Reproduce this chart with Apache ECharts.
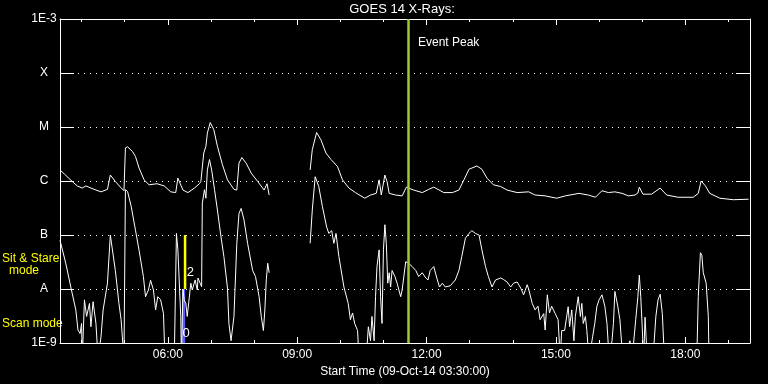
<!DOCTYPE html>
<html><head><meta charset="utf-8">
<script src="https://cdn.jsdelivr.net/npm/echarts@6/dist/echarts.min.js"></script>
<style>html,body{margin:0;padding:0;background:#000}#c{width:768px;height:384px}</style>
</head><body><div id="c"></div>
<script>
const LOW = 5e-10; // below the 1E-9 floor (clipped)
const startTime = "03:30";
const endTime = "19:30";
const eventPeak = "11:34";
const scanModeTime = "06:22";
const stareModeTime = "06:24";
const majorTicks = ["06:00","09:00","12:00","15:00","18:00"];
const minorTicks = ["04:00","05:00","07:00","08:00","10:00","11:00","13:00","14:00","16:00","17:00","19:00"];
const yLevels = [1e-9,1e-8,1e-7,1e-6,1e-5,1e-4,1e-3];
const yLabels = ["1E-9","A","B","C","M","X","1E-3"];

// GOES 14 long channel (1-8 A)
const longChannel = [
["03:30",1.6e-6],["03:36",1.35e-6],["03:47",9.8e-7],["03:54",8.1e-7],["04:01",7.4e-7],["04:06",8.1e-7],["04:13",7.4e-7],["04:20",6.8e-7],["04:27",6.3e-7],["04:36",7.0e-7],["04:40",1.29e-6],["04:42",1.4e-6],["04:47",9.8e-7],["04:54",7.7e-7],["04:59",6.6e-7],["05:01",4.1e-6],["05:04",4.3e-6],["05:11",3.5e-6],["05:15",2.84e-6],["05:20",1.74e-6],["05:27",1.05e-6],["05:34",8.5e-7],["05:45",8.9e-7],["05:55",8.1e-7],["06:04",6.3e-7],["06:11",6.1e-7],["06:14",1.13e-6],["06:21",6.8e-7],["06:28",6.1e-7],["06:37",7.4e-7],["06:44",8.9e-7],["06:46",9.8e-7],["06:50",3.3e-6],["06:53",4.4e-6],["06:55",7.7e-6],["06:59",1.21e-5],["07:04",8.9e-6],["07:09",4.4e-6],["07:16",2.0e-6],["07:23",1.05e-6],["07:32",7.0e-7],["07:36",6.8e-7],["07:39",2.14e-6],["07:43",2.72e-6],["07:49",2.14e-6],["07:56",1.4e-6],["08:05",9.8e-7],["08:14",6.8e-7],["08:18",8.9e-7],["08:21",5.5e-7],
["08:50",null],
["09:18",1.6e-6],["09:21",3.8e-6],["09:27",7.9e-6],["09:33",5.8e-6],["09:40",3.3e-6],["09:47",2.5e-6],["09:56",1.86e-6],["10:03",1.05e-6],["10:12",7.4e-7],["10:21",6.1e-7],["10:34",4.8e-7],["10:42",5.5e-7],["10:50",5.9e-7],["10:54",1.05e-6],["10:57",5.5e-7],["11:02",1.29e-6],["11:05",9.8e-7],["11:08",5.9e-7],["11:17",5.5e-7],["11:26",5.3e-7],["11:32",7.7e-7],["11:42",6.8e-7],["11:54",6.1e-7],["12:03",7.0e-7],["12:10",7.7e-7],["12:24",6.1e-7],["12:36",6.1e-7],["12:45",6.8e-7],["12:52",1.05e-6],["12:59",1.65e-6],["13:10",1.9e-6],["13:17",1.65e-6],["13:24",1.13e-6],["13:33",8.5e-7],["13:43",7.9e-7],["13:52",6.8e-7],["14:06",6.1e-7],["14:22",6.3e-7],["14:31",5.5e-7],["14:45",5.3e-7],["15:01",4.8e-7],["15:13",5.3e-7],["15:32",5.9e-7],["15:45",5.5e-7],["15:55",5.0e-7],["16:04",6.6e-7],["16:13",6.1e-7],["16:22",6.3e-7],["16:32",5.9e-7],["16:41",5.3e-7],["16:50",5.5e-7],["16:54",6.0e-7],["16:56",7.7e-7],["17:01",5.7e-7],["17:13",5.7e-7],["17:25",7.4e-7],["17:34",5.5e-7],["17:50",5.0e-7],["18:11",5.0e-7],["18:18",5.9e-7],["18:22",1.0e-6],["18:28",8.1e-7],["18:34",5.9e-7],["18:48",4.8e-7],["19:07",4.5e-7],["19:28",4.6e-7]
];

// GOES 14 short channel (0.5-4 A)
const shortChannel = [
["03:30",8e-8],["03:38",3.0e-8],["03:45",1.09e-8],["03:52",4.1e-9],["03:55",1.74e-9],["03:58",1.5e-9],["04:00",2.3e-9],["04:01",LOW],["04:04",6.3e-9],["04:07",3.1e-9],["04:11",5.4e-9],["04:13",2.0e-9],["04:16",5.8e-9],["04:20",2.3e-9],["04:23",LOW],["04:27",1.3e-9],["04:30",4.1e-9],["04:36",1.28e-8],["04:40",1.0e-7],["04:42",9.5e-8],["04:47",2.2e-8],["04:52",5.4e-9],["04:55",2.7e-9],["04:59",LOW],["05:01",6.9e-7],["05:04",6.4e-7],["05:09",3.4e-7],["05:15",1.23e-7],["05:20",5.2e-8],["05:26",1.7e-8],["05:29",7.2e-9],["05:33",9.6e-9],["05:36",1.45e-8],["05:40",9.6e-9],["05:43",4.1e-9],["05:46",7.2e-9],["05:50",6.3e-9],["05:54",3.5e-9],["05:56",LOW],["06:09",LOW],["06:12",1.07e-7],["06:14",5.3e-8],["06:18",3.1e-9],["06:19",LOW],["06:21",1.0e-8],["06:23",6e-9],["06:25",5.5e-9],["06:27",3.1e-9],["06:32",1.28e-8],["06:34",9.6e-9],["06:38",1.47e-8],["06:41",9.6e-9],["06:42",1.6e-8],["06:45",1.28e-8],["06:47",1.1e-8],["06:48",3.9e-7],["06:51",6.9e-7],["06:53",4.8e-7],["06:55",1.6e-6],["06:58",2.5e-6],["07:01",1.6e-6],["07:05",6.9e-7],["07:09",2.9e-7],["07:14",9.2e-8],["07:18",4.0e-8],["07:23",1.04e-8],["07:25",2.3e-9],["07:28",1.1e-9],["07:32",3.1e-9],["07:36",7.0e-8],["07:39",2.5e-7],["07:42",3.1e-7],["07:46",1.9e-7],["07:51",7e-8],["07:58",2.2e-8],["08:02",1.7e-8],["08:07",7.2e-9],["08:10",3.1e-9],["08:13",1.7e-9],["08:15",4.1e-9],["08:17",1.47e-8],["08:19",3.0e-8],["08:21",2.0e-8],
["08:50",null],
["09:18",7e-8],["09:21",2.9e-7],["09:25",1.2e-6],["09:27",1.29e-6],["09:30",7.9e-7],["09:35",3.4e-7],["09:41",1.4e-7],["09:44",1.07e-7],["09:48",1.2e-7],["09:51",7e-8],["09:54",1.07e-7],["09:58",4e-8],["10:05",1.09e-8],["10:11",5.4e-9],["10:14",2.7e-9],["10:17",3.6e-9],["10:20",2.3e-9],["10:24",1.7e-9],["10:26",LOW],["10:36",LOW],["10:39",2.0e-9],["10:42",1.1e-9],["10:44",3.1e-9],["10:47",1.1e-9],["10:49",7.2e-9],["10:51",2.6e-8],["10:54",5.3e-8],["10:56",7.2e-9],["10:58",2.3e-9],["11:00",5.3e-8],["11:02",1.55e-7],["11:04",7e-8],["11:06",1.28e-8],["11:08",2.0e-8],["11:10",1.09e-8],["11:12",2.2e-8],["11:16",1.7e-8],["11:19",1.28e-8],["11:24",7.2e-9],["11:26",9.6e-9],["11:31",3.2e-8],["11:35",3.0e-8],["11:40",2.6e-8],["11:45",2.2e-8],["11:49",1.7e-8],["11:54",2.0e-8],["11:59",1.6e-8],["12:02",1.47e-8],["12:05",2.2e-8],["12:10",2.6e-8],["12:15",1.47e-8],["12:18",1.09e-8],["12:22",1.28e-8],["12:26",1.09e-8],["12:33",1.15e-8],["12:40",1.47e-8],["12:45",2.2e-8],["12:49",4e-8],["12:54",8.7e-8],["12:59",1.07e-7],["13:03",1.2e-7],["13:08",1.07e-7],["13:13",1.0e-7],["13:17",5.3e-8],["13:22",2.6e-8],["13:26",1.7e-8],["13:31",1.09e-8],["13:36",1.47e-8],["13:43",1.6e-8],["13:47",1.5e-8],["13:52",1.35e-8],["13:57",1.09e-8],["14:01",1.28e-8],["14:06",1.35e-8],["14:11",1.04e-8],["14:15",7.8e-9],["14:20",1.2e-8],["14:22",1.0e-8],["14:27",5.4e-9],["14:31",4.1e-9],["14:35",4.8e-9],["14:38",2.7e-9],["14:43",3.5e-9],["14:45",1.74e-9],["14:48",7.8e-9],["14:51",3.6e-9],["14:54",4.8e-9],["14:59",3.5e-9],["15:03",2.7e-9],["15:06",LOW],["15:08",1.7e-9],["15:12",1.7e-9],["15:17",4.7e-9],["15:19",2.0e-9],["15:22",4.1e-9],["15:25",1.1e-9],["15:27",3.1e-9],["15:31",7.2e-9],["15:34",3.1e-9],["15:36",5.4e-9],["15:38",2.3e-9],["15:41",3.1e-9],["15:43",1.7e-9],["15:46",LOW],["15:51",1.3e-9],["15:54",2.3e-9],["15:57",4.8e-9],["16:00",6.3e-9],["16:04",7.8e-9],["16:08",4.8e-9],["16:11",2.3e-9],["16:14",LOW],["16:18",1.1e-9],["16:20",2.3e-9],["16:22",9e-9],["16:26",4.8e-9],["16:29",2.7e-9],["16:33",LOW],["16:43",1.1e-9],["16:46",LOW],["16:51",2.7e-9],["16:54",7.2e-9],["16:56",1.8e-8],["16:58",7.2e-9],["17:00",2e-9],["17:02",LOW],["17:04",3e-9],["17:07",LOW],["17:15",LOW],["17:19",3.1e-9],["17:22",6.3e-9],["17:25",8e-9],["17:28",3.5e-9],["17:31",LOW],["18:16",LOW],["18:18",7.2e-9],["18:21",4.7e-8],["18:23",4.2e-8],["18:25",2.0e-8],["18:29",1.28e-8],["18:32",3.1e-9],["18:33",LOW],["19:30",LOW]
];

const toMin = s => { const p = s.split(':').map(Number); return p[0]*60 + p[1]; };
const fmt = v => { const h = Math.floor(v/60), m = Math.round(v - h*60); return String(h).padStart(2,'0') + ':' + String(m).padStart(2,'0'); };
const FONT = '"Liberation Sans", Arial, sans-serif';
const WHITE = '#ffffff';
const xMin = toMin(startTime), xMax = toMin(endTime);
const majorVals = majorTicks.map(toMin), minorVals = minorTicks.map(toMin);
const conv = arr => arr.map(d => [toMin(d[0]), d[1]]);

function xAx(grid, pos, ticks, len, withLine, withLabel) {
  const a = {
    type: 'value', gridIndex: grid, position: pos, min: xMin, max: xMax,
    splitLine: { show: false },
    axisLine: { show: withLine, onZero: false, lineStyle: { color: WHITE, width: 1 } },
    axisTick: { show: true, inside: true, length: len, customValues: ticks, lineStyle: { color: WHITE, width: 1 } },
    axisLabel: { show: false }
  };
  if (withLabel) {
    a.axisLabel = { show: true, customValues: ticks, formatter: fmt, color: WHITE, fontFamily: FONT, fontSize: 12, margin: 6 };
    a.name = 'Start Time (09-Oct-14 03:30:00)';
    a.nameLocation = 'middle';
    a.nameGap = 19;
    a.nameTextStyle = { color: WHITE, fontFamily: FONT, fontSize: 12 };
  }
  return a;
}
function yAx(grid, pos, show, withLabel, withSplit) {
  return {
    type: 'log', logBase: 10, gridIndex: grid, position: pos, min: yLevels[0], max: yLevels[yLevels.length-1], splitNumber: 6,
    axisLine: { show: show, lineStyle: { color: WHITE, width: 1 } },
    axisTick: { show: show, inside: true, length: 14, customValues: yLevels, lineStyle: { color: WHITE, width: 1 } },
    axisLabel: withLabel ? { show: true, customValues: yLevels, color: WHITE, fontFamily: FONT, fontSize: 12, align: 'center', margin: 16,
      formatter: v => { const i = Math.round(Math.log10(v)) + 9; return yLabels[i] || ''; } } : { show: false },
    splitLine: { show: withSplit, lineStyle: { color: WHITE, width: 1, type: [1, 5] } }
  };
}

const chart = echarts.init(document.getElementById('c'), null, { renderer: 'canvas' });
const gridRect = { left: 60, top: 19, width: 690, height: 324 };
chart.setOption({
  backgroundColor: '#000000',
  animation: false,
  grid: [Object.assign({}, gridRect), Object.assign({}, gridRect)],
  xAxis: [
    xAx(0, 'bottom', majorVals, 6, true, true),
    xAx(0, 'top', majorVals, 6, true, false),
    xAx(1, 'bottom', minorVals, 3, false, false),
    xAx(1, 'top', minorVals, 3, false, false)
  ],
  yAxis: [
    yAx(0, 'left', true, true, true),
    yAx(0, 'right', true, false, false),
    yAx(1, 'left', false, false, false)
  ],
  graphic: [
    { type: 'text', x: 402, y: 9, style: { text: 'GOES 14 X-Rays:', fill: WHITE, font: '13px ' + FONT, textAlign: 'center', textVerticalAlign: 'middle' } },
    { type: 'text', x: 418, y: 43, style: { text: 'Event Peak', fill: WHITE, font: '12px ' + FONT, textAlign: 'left', textVerticalAlign: 'middle' } },
    { type: 'text', x: 2, y: 259, style: { text: 'Sit & Stare', fill: '#ffff00', font: '12px ' + FONT, textAlign: 'left', textVerticalAlign: 'middle' } },
    { type: 'text', x: 24, y: 271, style: { text: 'mode', fill: '#ffff00', font: '12px ' + FONT, textAlign: 'center', textVerticalAlign: 'middle' } },
    { type: 'text', x: 2, y: 324, style: { text: 'Scan mode', fill: '#ffff00', font: '12px ' + FONT, textAlign: 'left', textVerticalAlign: 'middle' } }
  ],
  series: [
    { type: 'line', name: 'scan', xAxisIndex: 0, yAxisIndex: 0, symbol: 'none', silent: true,
      data: [[toMin(scanModeTime), 1e-9], [toMin(scanModeTime), 1e-8]],
      lineStyle: { color: '#5a5aff', width: 3 },
      markPoint: { symbol: 'circle', symbolSize: 0, silent: true,
        label: { show: true, position: 'inside', color: WHITE, fontFamily: FONT, fontSize: 13, formatter: '0' },
        data: [{ coord: [toMin(scanModeTime) + 3.5, 1.5e-9] }] } },
    { type: 'line', name: 'stare', xAxisIndex: 0, yAxisIndex: 0, symbol: 'none', silent: true,
      data: [[toMin(stareModeTime), 1e-8], [toMin(stareModeTime), 1e-7]],
      lineStyle: { color: '#ffff00', width: 2.5 },
      markPoint: { symbol: 'circle', symbolSize: 0, silent: true,
        label: { show: true, position: 'inside', color: WHITE, fontFamily: FONT, fontSize: 13, formatter: '2' },
        data: [{ coord: [toMin(stareModeTime) + 7.5, 2.0e-8] }] } },
    { type: 'line', name: 'short', xAxisIndex: 0, yAxisIndex: 0, symbol: 'none', silent: true, clip: true, connectNulls: false,
      data: conv(shortChannel), lineStyle: { color: WHITE, width: 1 } },
    { type: 'line', name: 'long', xAxisIndex: 0, yAxisIndex: 0, symbol: 'none', silent: true, clip: true, connectNulls: false,
      data: conv(longChannel), lineStyle: { color: WHITE, width: 1 },
      markLine: { symbol: ['none', 'none'], silent: true, label: { show: false },
        lineStyle: { color: '#9acd32', width: 2.5, type: 'solid' },
        data: [{ xAxis: toMin(eventPeak) }] } }
  ]
});
</script>
</body></html>
